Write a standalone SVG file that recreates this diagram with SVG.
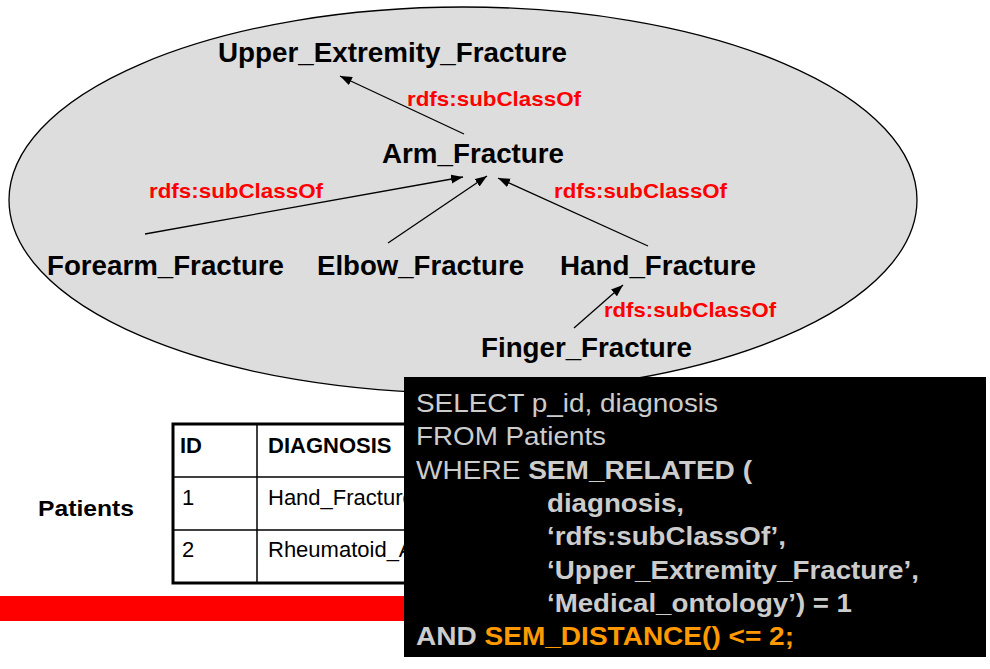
<svg xmlns="http://www.w3.org/2000/svg" width="990" height="669" viewBox="0 0 990 669">
<style>
  .node { font-family: "Liberation Sans", Arial, sans-serif; font-weight: bold; font-size: 27px; fill: #000; }
  .rel { font-family: "Liberation Sans", Arial, sans-serif; font-weight: bold; font-size: 21px; fill: #ff0000; }
  .edge { stroke: #000; stroke-width: 1.3; fill: none; marker-end: url(#arrow); }
  .tb { font-family: "Liberation Sans", Arial, sans-serif; font-size: 22px; fill: #000; }
  .tbb { font-family: "Liberation Sans", Arial, sans-serif; font-size: 22px; font-weight: bold; fill: #000; }
  .sql { font-family: "Liberation Sans", Arial, sans-serif; font-size: 25px; fill: #cccccc; }
  .b { font-weight: bold; }
  .o { fill: #ff9900; font-weight: bold; }
</style>
<defs>
  <marker id="arrow" markerUnits="userSpaceOnUse" markerWidth="13" markerHeight="10" refX="12" refY="4.5" orient="auto">
    <path d="M0,0 L12,4.5 L0,9 z" fill="#000"/>
  </marker>
</defs>
<rect x="0" y="0" width="990" height="669" fill="#ffffff"/>
<g id="ontology">
  <ellipse cx="463" cy="200" rx="454" ry="193" fill="#dddddd" stroke="#000" stroke-width="1.3"/>
</g>
<g id="connectors">
  <line class="edge" x1="464" y1="134" x2="340" y2="76"/>
  <line class="edge" x1="145" y1="234" x2="463" y2="177"/>
  <line class="edge" x1="388" y1="243" x2="487" y2="176"/>
  <line class="edge" x1="648" y1="246" x2="498" y2="178"/>
  <line class="edge" x1="574" y1="328" x2="623" y2="285"/>
  <text class="rel" x="407" y="106" textLength="174" lengthAdjust="spacingAndGlyphs">rdfs:subClassOf</text>
  <text class="rel" x="149" y="198" textLength="174" lengthAdjust="spacingAndGlyphs">rdfs:subClassOf</text>
  <text class="rel" x="554" y="198" textLength="173" lengthAdjust="spacingAndGlyphs">rdfs:subClassOf</text>
  <text class="rel" x="604" y="317" textLength="172" lengthAdjust="spacingAndGlyphs">rdfs:subClassOf</text>
</g>
<g id="n-upper"><text class="node" x="218" y="62" textLength="349" lengthAdjust="spacingAndGlyphs">Upper_Extremity_Fracture</text></g>
<g id="n-arm"><text class="node" x="382" y="163" textLength="182" lengthAdjust="spacingAndGlyphs">Arm_Fracture</text></g>
<g id="n-forearm"><text class="node" x="47" y="275" textLength="237" lengthAdjust="spacingAndGlyphs">Forearm_Fracture</text></g>
<g id="n-elbow"><text class="node" x="317" y="275" textLength="207" lengthAdjust="spacingAndGlyphs">Elbow_Fracture</text></g>
<g id="n-hand"><text class="node" x="560" y="275" textLength="196" lengthAdjust="spacingAndGlyphs">Hand_Fracture</text></g>
<g id="n-finger"><text class="node" x="481" y="357" textLength="211" lengthAdjust="spacingAndGlyphs">Finger_Fracture</text></g>
<g id="patients-table">
  <text class="tbb" x="38" y="516" font-size="25" textLength="96" lengthAdjust="spacingAndGlyphs">Patients</text>
  <rect x="173" y="424" width="270" height="159" fill="#ffffff" stroke="#000" stroke-width="3"/>
  <line x1="257" y1="424" x2="257" y2="583" stroke="#000" stroke-width="1.5"/>
  <line x1="173" y1="477" x2="443" y2="477" stroke="#000" stroke-width="1.5"/>
  <line x1="173" y1="530" x2="443" y2="530" stroke="#000" stroke-width="1.5"/>
  <text class="tbb" x="180" y="453">ID</text>
  <text class="tbb" x="268" y="453">DIAGNOSIS</text>
  <text class="tb" x="182" y="505">1</text>
  <text class="tb" x="268" y="505">Hand_Fracture</text>
  <text class="tb" x="182" y="557">2</text>
  <text class="tb" x="268" y="557">Rheumatoid_Arthritis</text>
</g>
<rect id="red-bar" x="0" y="596" width="430" height="25" fill="#ff0000"/>
<g id="sql-box">
  <rect x="404" y="377" width="582" height="280" fill="#000000"/>
  <text class="sql" x="416" y="412" textLength="302" lengthAdjust="spacingAndGlyphs">SELECT p_id, diagnosis</text>
  <text class="sql" x="416" y="445" textLength="190" lengthAdjust="spacingAndGlyphs">FROM Patients</text>
  <text class="sql" x="416" y="479" textLength="336" lengthAdjust="spacingAndGlyphs">WHERE <tspan class="b">SEM_RELATED (</tspan></text>
  <text class="sql b" x="547" y="512" textLength="137" lengthAdjust="spacingAndGlyphs">diagnosis,</text>
  <text class="sql b" x="547" y="545" textLength="239" lengthAdjust="spacingAndGlyphs">‘rdfs:subClassOf’,</text>
  <text class="sql b" x="547" y="579" textLength="372" lengthAdjust="spacingAndGlyphs">‘Upper_Extremity_Fracture’,</text>
  <text class="sql b" x="547" y="612" textLength="305" lengthAdjust="spacingAndGlyphs">‘Medical_ontology’) = 1</text>
  <text class="sql b" x="416" y="645" textLength="378" lengthAdjust="spacingAndGlyphs">AND <tspan class="o">SEM_DISTANCE() &lt;= 2;</tspan></text>
</g>
</svg>
